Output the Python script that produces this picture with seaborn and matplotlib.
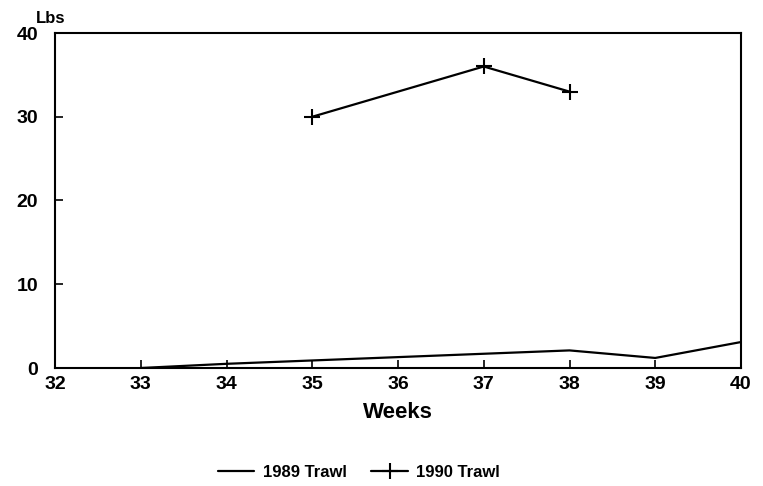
import matplotlib
matplotlib.use("Agg")
import matplotlib.pyplot as plt
import seaborn as sns
import pandas as pd

weeks_1989 = [33, 34, 35, 36, 37, 38, 39, 40]
lbs_1989 = [0.0, 0.5, 0.9, 1.3, 1.7, 2.1, 1.2, 3.1]
weeks_1990 = [35, 37, 38]
lbs_1990 = [30, 36, 33]
series_names = ["1989 Trawl", "1990 Trawl"]
x_ticks = [32, 33, 34, 35, 36, 37, 38, 39, 40]
y_ticks = [0, 10, 20, 30, 40]

df89 = pd.DataFrame({"Weeks": weeks_1989, "Lbs": lbs_1989})
df90 = pd.DataFrame({"Weeks": weeks_1990, "Lbs": lbs_1990})

sns.set_style("ticks")
plt.rcParams["font.family"] = ["Liberation Sans", "DejaVu Sans"]
plt.rcParams["font.weight"] = "bold"
plt.rcParams["text.color"] = "black"
plt.rcParams["xtick.color"] = "black"
plt.rcParams["ytick.color"] = "black"
plt.rcParams["axes.labelcolor"] = "black"

fig = plt.figure(figsize=(7.63, 4.86), dpi=100)
ax = fig.add_axes([55 / 763, 1 - 368 / 486, (741 - 55) / 763, (368 - 33) / 486])

sns.lineplot(data=df89, x="Weeks", y="Lbs", color="black", linewidth=1.6,
             ax=ax, label=series_names[0])
sns.lineplot(data=df90, x="Weeks", y="Lbs", color="black", linewidth=1.6,
             marker="+", markersize=11, markeredgewidth=1.5,
             markeredgecolor="black", markerfacecolor="black",
             ax=ax, label=series_names[1])

ax.set_xlim(32, 40)
ax.set_ylim(0, 40)
ax.set_xticks(x_ticks)
ax.set_yticks(y_ticks)
ax.tick_params(direction="in", length=6, width=1.2, labelsize=14, colors="black")
ax.tick_params(axis="y", pad=12)
ax.tick_params(axis="x", pad=6)
for lab in ax.get_xticklabels() + ax.get_yticklabels():
    lab.set_fontweight("bold")
for s in ax.spines.values():
    s.set_visible(True)
    s.set_linewidth(1.5)
    s.set_color("black")

ax.set_xlabel("Weeks", fontsize=16, fontweight="bold", labelpad=6, color="black")
ax.set_ylabel("")
ax.text(-0.028, 1.02, "Lbs", transform=ax.transAxes, fontsize=12, fontweight="bold",
        ha="left", va="bottom", color="black")

handles, labels = ax.get_legend_handles_labels()
leg = ax.legend(handles, labels, loc="upper center", bbox_to_anchor=(0.443, -0.245),
                ncol=2, frameon=False, handlelength=2.2, columnspacing=1.5,
                handletextpad=0.5, prop={"weight": "bold", "size": 12})
for t in leg.get_texts():
    t.set_color("black")

fig.savefig("out.png", dpi=100)
